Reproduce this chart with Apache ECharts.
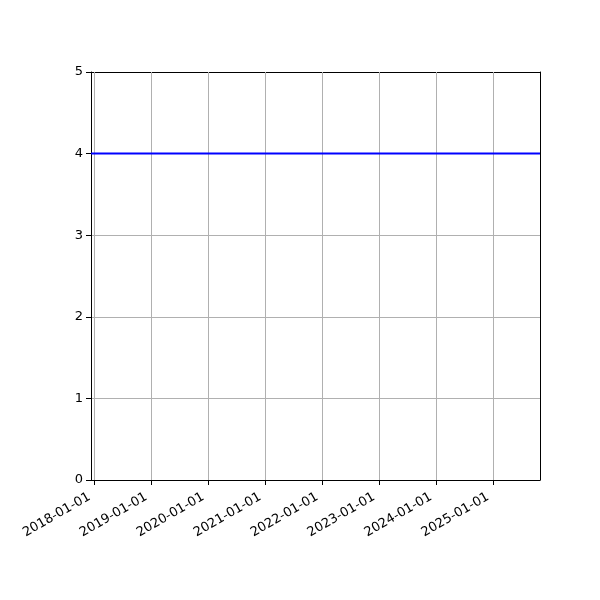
<!DOCTYPE html>
<html><head><meta charset="utf-8">
<script src="https://cdn.jsdelivr.net/npm/echarts@6/dist/echarts.min.js"></script>
<style>html,body{margin:0;padding:0;background:#fff}#c{width:600px;height:600px}</style>
</head><body><div id="c"></div>
<script>
const dates = ['2017-12-09', '2025-10-28'];
const values = [4, 4];
const tickDates = ['2018-01-01','2019-01-01','2020-01-01','2021-01-01','2022-01-01','2023-01-01','2024-01-01','2025-01-01'];
const xRange = ['2017-12-09', '2025-10-28'];
const yTicks = [0, 1, 2, 3, 4, 5];

function ts(s){ const p = s.split('-').map(Number); return Date.UTC(p[0], p[1]-1, p[2]); }
function pad(n){ return (n<10?'0':'')+n; }
function fmt(v){ const d = new Date(v); return d.getUTCFullYear()+'-'+pad(d.getUTCMonth()+1)+'-'+pad(d.getUTCDate()); }

const tickTs = tickDates.map(ts);
const font = 'DejaVu Sans';
const frame = {show: true, onZero: false, lineStyle: {color: '#000', width: 1}};
const chart = echarts.init(document.getElementById('c'), null, {renderer:'canvas'});
chart.setOption({
  animation: false,
  grid: {left: 91, top: 72, right: 60, bottom: 120, show: false},
  xAxis: [{
    type: 'value',
    min: ts(xRange[0]), max: ts(xRange[1]),
    axisLine: frame,
    axisTick: {show: true, inside: false, length: 5, lineStyle: {color: '#000', width: 1}, customValues: tickTs},
    axisLabel: {customValues: tickTs, rotate: 30, color: '#000', fontFamily: font, fontSize: 13, margin: 13, padding: [0, 6, 0, 0], formatter: v => fmt(v), showMinLabel: true, showMaxLabel: true},
    splitLine: {show: false}
  }, {
    type: 'value', position: 'top',
    min: ts(xRange[0]), max: ts(xRange[1]),
    axisLine: frame, axisTick: {show: false}, axisLabel: {show: false}, splitLine: {show: false}
  }],
  yAxis: [{
    type: 'value', min: yTicks[0], max: yTicks[yTicks.length-1], interval: 1,
    axisLine: frame,
    axisTick: {show: true, inside: false, length: 5, lineStyle: {color: '#000', width: 1}},
    axisLabel: {color: '#000', fontFamily: font, fontSize: 13, margin: 8},
    splitLine: {show: true, lineStyle: {color: '#b0b0b0', width: 1}}
  }, {
    type: 'value', position: 'right', min: yTicks[0], max: yTicks[yTicks.length-1], interval: 1,
    axisLine: frame, axisTick: {show: false}, axisLabel: {show: false}, splitLine: {show: false}
  }],
  series: [{
    type: 'line',
    data: dates.map((d, i) => [ts(d), values[i]]),
    showSymbol: false,
    lineStyle: {color: '#0000ff', width: 2},
    z: 5,
    markLine: {
      silent: true, symbol: 'none', label: {show: false},
      lineStyle: {color: '#b0b0b0', width: 1, type: 'solid'},
      data: tickTs.map(t => ({xAxis: t}))
    }
  }]
});
</script></body></html>
